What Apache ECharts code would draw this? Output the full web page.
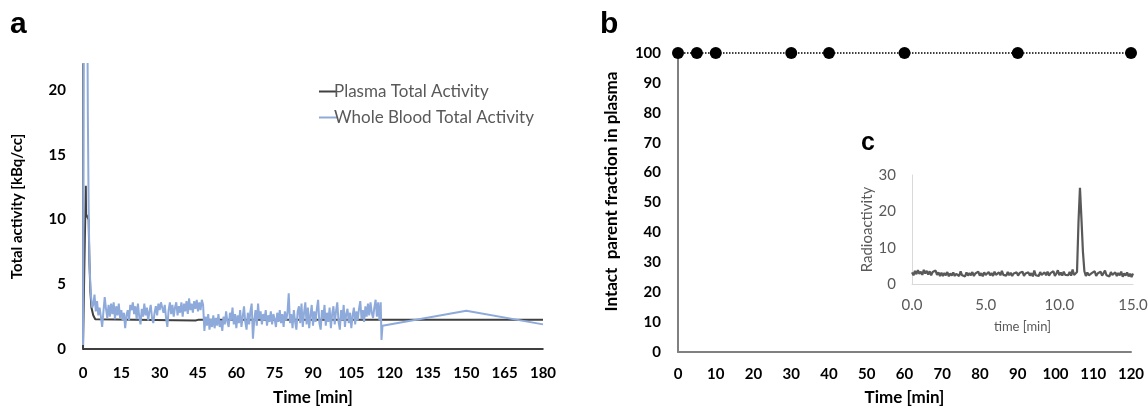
<!DOCTYPE html>
<html>
<head>
<meta charset="utf-8">
<script src="https://cdn.jsdelivr.net/npm/echarts@6/dist/echarts.min.js"></script>
<style>
html,body{margin:0;padding:0;background:#fff;}
#chart{width:1148px;height:411px;}
</style>
</head>
<body>
<div id="chart"></div>
<script>
// ---------- Panel a: total activity ----------
const plasmaTimes  = [0, 0.5, 1.1, 1.2, 2.2, 2.5, 2.9, 3.3, 4.0, 4.8, 5.5, 44, 45, 180];
const plasmaValues = [0, 6.0, 12.6, 10.4, 10.0, 6.8, 4.4, 3.2, 2.6, 2.3, 2.22, 2.2, 2.25, 2.25];

const bloodEarlyTimes  = [0, 0.2, 0.4, 1.6, 1.9, 2.2, 2.5, 2.9, 3.2, 3.6];
const bloodEarlyValues = [0.3, 12, 30, 30, 18, 11, 7.0, 4.8, 3.9, 3.2];

// noisy well-counter samples, every 0.5 min from 4.0 min to 116.5 min
const bloodNoiseStartMin = 4.0;
const bloodNoiseStepMin = 0.5;
const bloodNoiseValues = [
  3.4,4.2,2.9,3.7,2.6,3.2,2.5,1.7,2.9,4.0,
  3.1,2.4,3.4,2.5,3.5,2.7,3.6,2.3,3.3,2.6,
  3.5,2.4,3.0,2.2,2.8,1.6,2.6,3.0,2.2,3.4,
  3.0,3.6,2.7,3.3,2.3,3.5,2.5,1.9,3.1,2.5,
  3.5,2.6,3.2,2.2,2.9,3.4,2.4,2.0,2.8,3.3,
  2.6,3.5,3.0,3.6,3.7,2.8,3.4,2.4,1.7,3.0,
  3.6,2.7,3.4,2.5,3.2,3.6,2.6,3.3,2.8,3.6,
  2.5,3.5,2.9,3.7,2.7,3.9,3.0,3.5,2.8,3.7,
  3.1,3.8,2.9,3.6,3.0,3.8,3.4,
  1.4,2.5,1.8,2.7,1.5,2.3,1.7,2.6,1.6,2.4,
  1.8,2.7,1.7,2.2,1.4,2.5,1.9,2.9,2.1,1.7,
  2.8,2.2,3.2,1.9,2.7,1.6,2.6,2.0,3.0,1.7,
  2.5,3.3,2.1,1.5,2.8,1.9,2.9,3.5,0.8,2.2,
  3.0,1.8,3.5,2.3,2.9,1.9,2.7,2.2,3.0,1.8,
  2.6,2.1,2.9,1.9,2.7,2.3,1.7,2.8,2.1,3.0,
  2.0,2.7,1.7,2.9,2.2,2.8,4.3,2.0,2.7,1.6,
  3.0,2.1,1.5,2.9,3.3,2.0,3.5,1.7,2.8,3.6,
  1.9,3.2,1.6,2.6,3.4,1.8,2.9,2.1,3.1,3.8,
  2.0,1.5,3.0,2.3,3.4,1.8,2.8,2.1,3.2,1.6,
  2.7,3.3,1.9,2.9,3.6,2.1,1.5,3.0,2.2,3.4,
  1.7,2.7,3.1,2.0,2.8,1.6,2.6,3.2,1.9,2.9,
  2.2,3.1,3.7,2.3,3.0,2.1,3.3,2.5,3.5,2.6,
  3.6,2.8,2.4,3.2,3.8,2.5,3.6,2.2,3.6
];

const bloodLateTimes  = [116.8, 117.2, 150, 180];
const bloodLateValues = [0.7, 1.8, 2.95, 1.9];

const aXTicks = {min: 0, max: 180, interval: 15};
const aYTicks = {min: 0, max: 22, interval: 5};

// ---------- Panel b: intact parent fraction ----------
const parentTimes  = [0, 5, 10, 30, 40, 60, 90, 120];
const parentValues = [100, 100, 100, 100, 100, 100, 100, 100];

// ---------- Panel c: radio-HPLC chromatogram, every 0.1 min ----------
const chromStepMin = 0.1;
const chromValues = [
  3.2,2.4,3.6,2.7,3.8,2.8,3.4,2.5,3.9,2.9,3.6,
  2.6,3.5,2.4,3.3,2.8,3.7,2.5,3.2,2.2,3.1,
  2.2,3.0,2.4,3.3,2.1,2.9,2.3,3.2,2.2,2.8,
  3.1,2.2,3.5,2.4,2.9,2.1,3.2,2.3,3.0,2.4,
  3.3,2.2,2.9,2.4,3.4,2.3,3.0,2.1,3.2,2.5,
  2.3,3.3,2.4,3.0,2.2,3.4,2.5,2.3,3.2,2.4,
  3.6,2.5,3.0,2.3,3.3,2.4,3.1,2.2,2.9,2.4,
  3.2,2.3,3.0,2.5,3.4,2.2,2.9,2.4,3.2,2.3,
  3.0,2.1,3.7,2.4,2.9,2.2,3.3,2.5,2.3,3.2,
  2.4,3.4,2.3,3.0,2.5,3.5,2.2,2.9,3.8,2.4,
  3.2,2.3,3.4,2.5,3.0,2.4,3.3,2.3,4.0,2.5,
  3.0,3.3,17,26.5,18,9,3.5,2.2,3.2,2.4,
  2.3,3.0,2.5,3.5,2.2,2.9,2.4,3.4,2.3,3.0,
  3.7,2.4,2.9,2.1,3.3,2.5,2.3,3.2,2.2,3.0,
  2.4,3.4,2.0,2.9,2.3,3.2,2.1,2.8,1.9,2.9
];

// ---------- build series data ----------
const plasmaData = plasmaTimes.map((t, i) => [t, plasmaValues[i]]);
const bloodData = bloodEarlyTimes.map((t, i) => [t, bloodEarlyValues[i]])
  .concat(bloodNoiseValues.map((v, i) => [bloodNoiseStartMin + i * bloodNoiseStepMin, v]))
  .concat(bloodLateTimes.map((t, i) => [t, bloodLateValues[i]]));
const parentData = parentTimes.map((t, i) => [t, parentValues[i]]);
const chromData = chromValues.map((v, i) => [+(i * chromStepMin).toFixed(2), v]);

const FONT = 'Lato';
const boldLabel = {fontFamily: FONT, fontWeight: 'bold', fontSize: 15, color: '#000'};
const boldTitle = {fontFamily: FONT, fontWeight: 'bold', fontSize: 17, color: '#000'};

const chart = echarts.init(document.getElementById('chart'), null, {renderer: 'canvas'});
chart.setOption({
  backgroundColor: '#fff',
  animation: false,
  grid: [
    {left: 83, top: 64, width: 460, height: 285, outerBoundsMode: 'none', containLabel: false},
    {left: 678, top: 53, width: 453, height: 299, outerBoundsMode: 'none', containLabel: false},
    {left: 912, top: 175, width: 221, height: 109, outerBoundsMode: 'none', containLabel: false}
  ],
  legend: {
    left: 314, top: 78, orient: 'vertical', itemWidth: 18, itemHeight: 2, itemGap: 9,
    icon: 'rect',
    data: ['Plasma Total Activity', 'Whole Blood Total Activity'],
    textStyle: {fontFamily: FONT, fontSize: 17, color: '#595959', padding: [0, 0, 0, -8]}
  },
  xAxis: [
    {gridIndex: 0, type: 'value', min: aXTicks.min, max: aXTicks.max, interval: aXTicks.interval,
     axisLine: {lineStyle: {color: '#000', width: 1.5}}, axisTick: {show: false}, splitLine: {show: false},
     axisLabel: Object.assign({margin: 17}, boldLabel),
     name: 'Time [min]', nameLocation: 'middle', nameGap: 40, nameTextStyle: boldTitle},
    {gridIndex: 1, type: 'value', min: 0, max: 120, interval: 10,
     axisLine: {lineStyle: {color: '#808080', width: 2}}, axisTick: {show: false}, splitLine: {show: false},
     axisLabel: Object.assign({margin: 15}, boldLabel),
     name: 'Time [min]', nameLocation: 'middle', nameGap: 37, nameTextStyle: boldTitle},
    {gridIndex: 2, type: 'value', min: 0, max: 15, interval: 5,
     axisLine: {lineStyle: {color: '#d9d9d9', width: 1}}, axisTick: {show: false}, splitLine: {show: false},
     axisLabel: {fontFamily: FONT, fontSize: 15, color: '#595959', margin: 14, formatter: v => v.toFixed(1)},
     name: 'time [min]', nameLocation: 'middle', nameGap: 36,
     nameTextStyle: {fontFamily: FONT, fontSize: 13, color: '#595959'}}
  ],
  yAxis: [
    {gridIndex: 0, type: 'value', min: aYTicks.min, max: aYTicks.max, interval: aYTicks.interval,
     axisLine: {show: true, lineStyle: {color: '#7f7f7f', width: 2}}, axisTick: {show: false}, splitLine: {show: false},
     axisLabel: Object.assign({margin: 17, showMaxLabel: false}, boldLabel),
     name: 'Total activity [kBq/cc]', nameLocation: 'middle', nameGap: 58,
     nameTextStyle: Object.assign({}, boldLabel, {fontSize: 15})},
    {gridIndex: 1, type: 'value', min: 0, max: 100, interval: 10,
     axisLine: {show: true, lineStyle: {color: '#808080', width: 2}}, axisTick: {show: false}, splitLine: {show: false},
     axisLabel: Object.assign({margin: 17}, boldLabel),
     name: 'Intact  parent fraction in plasma', nameLocation: 'middle', nameGap: 58,
     nameTextStyle: Object.assign({}, boldTitle, {padding: [0, 0, 0, 22]})},
    {gridIndex: 2, type: 'value', min: 0, max: 30, interval: 10,
     axisLine: {show: true, lineStyle: {color: '#d9d9d9', width: 1}}, axisTick: {show: false}, splitLine: {show: false},
     axisLabel: {fontFamily: FONT, fontSize: 15, color: '#595959', margin: 16},
     name: 'Radioactivity', nameLocation: 'middle', nameGap: 32,
     nameTextStyle: {fontFamily: FONT, fontSize: 15, color: '#595959'}}
  ],
  series: [
    {name: 'Plasma Total Activity', type: 'line', xAxisIndex: 0, yAxisIndex: 0, data: plasmaData,
     showSymbol: false, symbol: 'none', color: '#404040', lineStyle: {color: '#404040', width: 2}, z: 3},
    {name: 'Whole Blood Total Activity', type: 'line', xAxisIndex: 0, yAxisIndex: 0, data: bloodData,
     showSymbol: false, symbol: 'none', color: '#8eaadb', lineStyle: {color: '#8eaadb', width: 2}, z: 4, clip: true},
    {name: 'Parent', type: 'line', xAxisIndex: 1, yAxisIndex: 1, data: parentData, clip: false,
     symbol: 'circle', symbolSize: 12, itemStyle: {color: '#000'},
     lineStyle: {color: '#000', width: 1.5, type: [1.5, 1.5]}},
    {name: 'Chrom', type: 'line', xAxisIndex: 2, yAxisIndex: 2, data: chromData,
     showSymbol: false, symbol: 'none', lineStyle: {color: '#595959', width: 2.2}}
  ],
  graphic: [
    {type: 'text', left: 10, top: 10, style: {text: 'a', font: 'bold 30px "Liberation Sans"', fill: '#000'}},
    {type: 'text', left: 600, top: 10, style: {text: 'b', font: 'bold 30px "Liberation Sans"', fill: '#000'}},
    {type: 'text', left: 861, top: 131, style: {text: 'c', font: 'bold 25px "Liberation Sans"', fill: '#000'}}
  ]
});
</script>
</body>
</html>
